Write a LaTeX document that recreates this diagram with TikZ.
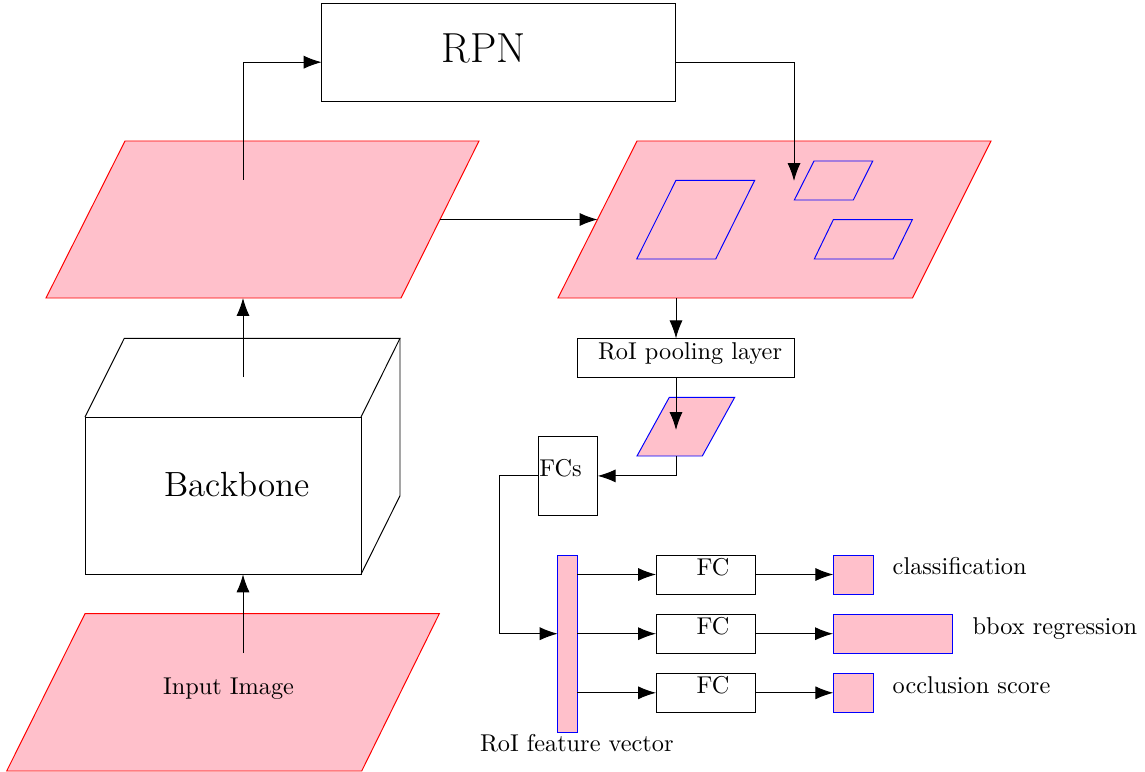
\documentclass[tikz,border=0pt]{standalone}
\usetikzlibrary{arrows.meta,calc}
\definecolor{pinkf}{HTML}{FFC0CB}
\def\px{0.41152pt}
\begin{document}
\begin{tikzpicture}[x=\px,y=-\px, line width=0.4pt,
  arr/.style={-{Latex[length=7.4pt,width=5.4pt]}},
  map/.style={fill=pinkf,draw=red},
  roi/.style={draw=blue},
  pshape/.style={fill=pinkf,draw=blue},
  pbox/.style={fill=pinkf,draw=blue,inner sep=0,outer sep=0},
  box/.style={draw,inner sep=0,outer sep=0},
  lbl/.style={inner sep=0,outer sep=0,anchor=base west}]
\useasboundingbox (0,0) rectangle (1145,771);

% ---------- input image ----------
\draw[map] (85,613.7) -- (439.3,613.7) -- (361.7,771) -- (6.7,771) -- cycle;
\coordinate (inimg) at (243,653);
\node[lbl] (inimgtxt) at (163,694) {Input Image};

% ---------- backbone cube ----------
\node[box, minimum width=276*\px, minimum height=157.3*\px] (bbf) at (223,495.7) {};
\coordinate (bbtl) at (124.3,338.3);
\coordinate (bbtr) at (400,338.3);
\coordinate (bbbr) at (400,495.7);
\draw (bbf.north west) -- (bbtl) -- (bbtr) -- (bbf.north east);
\draw (bbtr) -- (bbbr) -- (bbf.south east);
\node[lbl,font=\Large] (bbtxt) at (164.3,496.7) {Backbone};
\coordinate (bbup) at (243,377);

% ---------- feature map 1 ----------
\draw[map] (125,141) -- (479,141) -- (401,298) coordinate (m1br) -- (46,298) coordinate (m1bl) -- cycle;
\coordinate (m1in) at (243,180);
\coordinate (m1r) at (440,219.5);

% ---------- RPN ----------
\node[box, minimum width=354.3*\px, minimum height=97.7*\px] (rpn) at (498.8,52.2) {};
\node[lbl,font=\LARGE] (rpntxt) at (441.7,62.3) {RPN};
\coordinate (rpnin) at ($(rpn.west)+(0,10)$);
\coordinate (rpnout) at ($(rpn.east)+(0,10)$);

% ---------- feature map 2 with proposals ----------
\draw[map] (637,141) -- (991,141) -- (912.5,298) -- (558,298) -- cycle;
\coordinate (m2l) at (597.5,219.5);
\coordinate (m2b) at (676,298);
\coordinate (rpntgt) at (794,181);
\draw[roi] (676,180.3) -- (754.7,180.3) -- (715.7,259) -- (636.7,259) -- cycle;
\draw[roi] (814,161) -- (872.7,161) -- (853.3,200) -- (794.3,200) -- cycle;
\draw[roi] (833.3,219.7) -- (912.3,219.7) -- (893,259) -- (814.3,259) -- cycle;

% ---------- RoI pooling ----------
\node[box, minimum width=216.6*\px, minimum height=38.7*\px] (roipool) at (686,357.7) {};
\node[lbl] (roitxt) at (598,359) {RoI pooling layer};

\draw[pshape] (669.3,397.3) -- (734.7,397.3) -- (702.3,456) -- (637,456) -- cycle;
\coordinate (pooltip) at (676,430);
\coordinate (poolb) at (676,456);

% ---------- FCs ----------
\node[box, minimum width=59.4*\px, minimum height=78.3*\px] (fcs) at (568,475.9) {};
\node[lbl] (fcstxt) at (539.3,476.7) {FCs};

% ---------- RoI feature vector ----------
\node[pbox, minimum width=19.6*\px, minimum height=177.3*\px] (vec) at (567.5,643.7) {};
\node[lbl] (vectxt) at (480,751) {RoI feature vector};

% ---------- FC heads ----------
\node[box, minimum width=99*\px, minimum height=39*\px] (fc1) at (705.5,574.5) {};
\node[box, minimum width=99*\px, minimum height=39.3*\px] (fc2) at (705.5,633.7) {};
\node[box, minimum width=99*\px, minimum height=39*\px] (fc3) at (705.5,692.8) {};
\node[lbl] (fc1txt) at (696.7,575) {FC};
\node[lbl] (fc2txt) at (696.7,634) {FC};
\node[lbl] (fc3txt) at (696.7,693.3) {FC};

% ---------- outputs ----------
\node[pbox, minimum width=40.4*\px, minimum height=39*\px] (out1) at (853.5,574.5) {};
\node[pbox, minimum width=119*\px, minimum height=39.3*\px] (out2) at (892.5,633.7) {};
\node[pbox, minimum width=40.4*\px, minimum height=39*\px] (out3) at (853.5,692.8) {};
\node[lbl] (out1txt) at (892.7,574.3) {classification};
\node[lbl] (out2txt) at (972.7,634) {bbox regression};
\node[lbl] (out3txt) at (892.7,693.3) {occlusion score};

% ---------- connectors ----------
\draw[arr] (inimg) -- (inimg |- bbf.south);
\draw[arr] (bbup) -- (bbup |- m1bl);
\draw[arr] (m1in) |- (rpnin);
\draw[arr] (rpnout) -| (rpntgt);
\draw[arr] (m1r) -- (m2l);
\draw[arr] (m2b) -- (m2b |- roipool.north);
\draw[arr] (m2b |- roipool.south) -- (pooltip);
\draw[arr] (poolb) |- (fcs.east);
\draw[arr] (fcs.west) -- ++(-39.3,0) |- (vec.west |- fc2.west);
\draw[arr] (vec.east |- fc1.west) -- (fc1.west);
\draw[arr] (vec.east |- fc2.west) -- (fc2.west);
\draw[arr] (vec.east |- fc3.west) -- (fc3.west);
\draw[arr] (fc1.east) -- (out1.west);
\draw[arr] (fc2.east) -- (out2.west);
\draw[arr] (fc3.east) -- (out3.west);
\end{tikzpicture}
\end{document}
